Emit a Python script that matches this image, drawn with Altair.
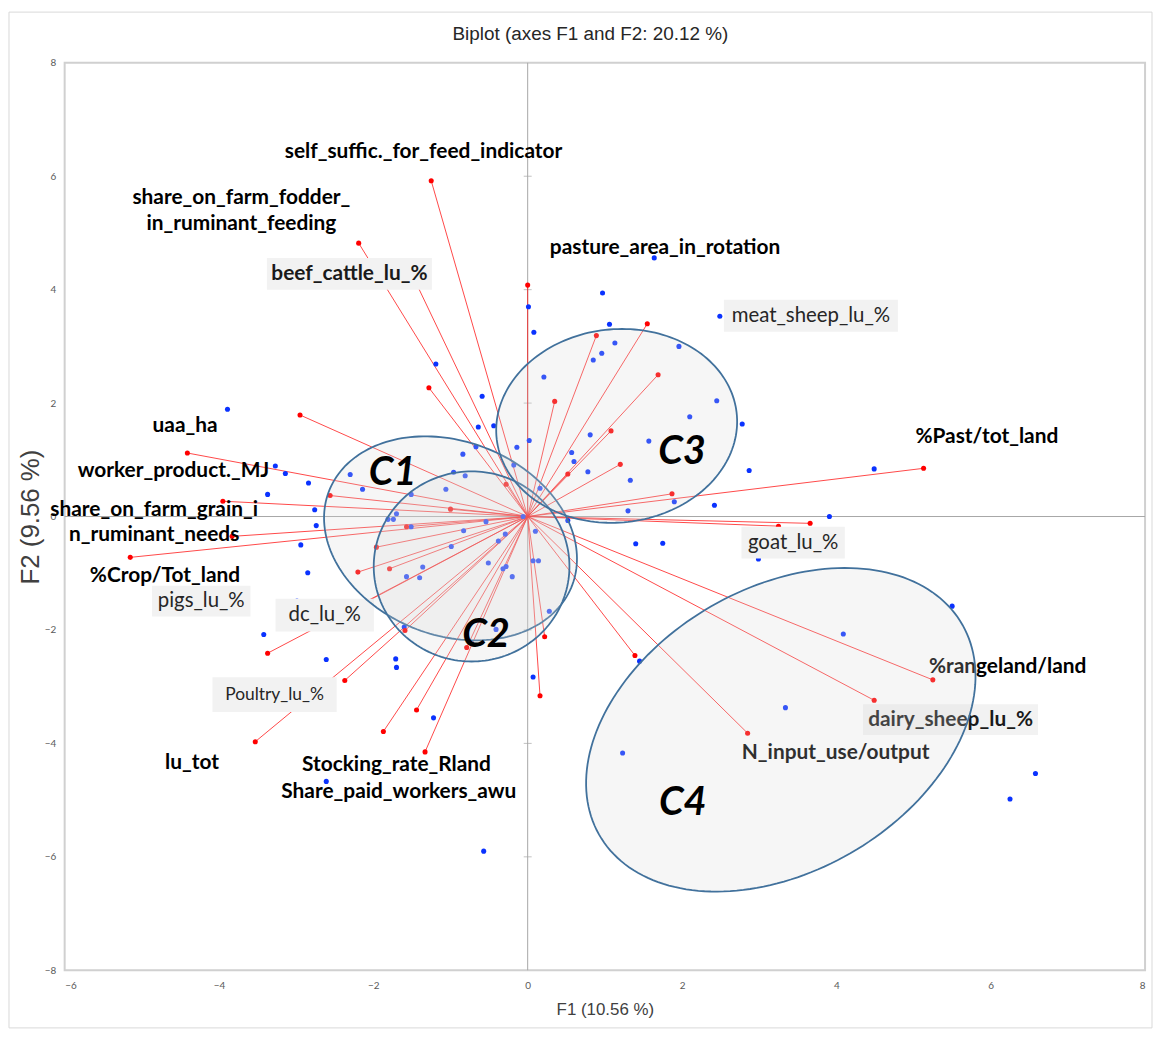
import altair as alt
import numpy as np
import pandas as pd

# ---------------- data ----------------
# observations (blue points)
obs_x = [0.01, 0.08, -1.19, 0.21, -0.59, -3.89, -0.64, -0.44, 0.02, -0.14, -0.67, -0.84, 0.57, 0.60,
         -0.18, 0.78, -3.27, -3.14, -2.84, -2.30, -2.14, -0.96, -0.81, -1.06, 0.16, -1.51, -3.37, -2.76,
         -0.06, 1.64, 0.97, 2.49, 1.06, 1.13, 0.96, 0.85, 1.96, 2.45, 2.10, 2.78, 0.81, 1.57, 1.33, 2.87,
         4.49, 1.90, 2.42, 1.30, 3.91, -1.70, -1.81, -1.74, -0.54, 0.52, -2.74, -1.51, -0.83, -0.29, 0.10,
         -0.38, -2.94, -0.99, 0.07, 0.14, -0.51, -1.36, -0.28, -0.32, -2.85, -1.57, -1.40, -0.20, -2.99,
         0.28, -2.18, -1.60, -0.41, -3.42, -2.61, -1.71, -1.70, 0.07, -1.22, -2.61, -0.57, 1.40, 1.75,
         2.99, 5.50, 4.09, 1.45, 3.34, 1.23, 6.58, 6.25]
obs_y = [3.70, 3.25, 2.69, 2.46, 2.12, 1.89, 1.58, 1.60, 1.34, 1.22, 1.23, 1.10, 1.13, 0.97,
         0.91, 0.79, 0.89, 0.76, 0.59, 0.74, 0.48, 0.78, 0.72, 0.48, 0.50, 0.39, 0.39, 0.12,
         0.00, 4.56, 3.94, 3.53, 3.39, 3.06, 2.88, 2.76, 3.00, 2.04, 1.76, 1.63, 1.44, 1.33, 0.64, 0.81,
         0.84, 0.26, 0.20, 0.10, 0.00, 0.05, -0.05, -0.05, -0.09, -0.07, -0.16, -0.18, -0.25, -0.31, -0.26,
         -0.43, -0.50, -0.53, -0.78, -0.78, -0.82, -0.89, -0.88, -0.92, -0.99, -1.06, -1.08, -1.06, -1.49,
         -1.67, -1.90, -1.95, -1.99, -2.08, -2.52, -2.51, -2.66, -2.83, -3.55, -4.67, -5.90, -0.48, -0.47,
         -0.75, -1.58, -2.07, -2.55, -3.37, -4.17, -4.53, -4.98]

# variables (red vectors)
var_x = [-1.25, -2.19, -1.51, 0.00, -1.28, -2.95, -4.41, 0.35, 1.55, 0.89, 1.69, 1.08, 1.20, 0.52,
         1.87, 5.13, -0.28, -2.56, -3.95, -1.00, -1.57, -1.96, -3.83, -5.15, -2.20, -1.79, -2.11,
         -3.37, -1.59, -0.79, -2.37, 0.22, 0.16, -1.44, -1.87, -1.33, -3.53, 1.39, 2.85, 4.49, 5.25,
         3.66, 3.25]
var_y = [5.92, 4.82, 4.30, 4.08, 2.27, 1.79, 1.12, 2.03, 3.40, 3.19, 2.50, 1.51, 0.92, 0.75,
         0.40, 0.85, 0.57, 0.37, 0.27, 0.13, -0.18, -0.54, -0.35, -0.72, -0.98, -0.92, -1.52,
         -2.41, -2.01, -2.31, -2.89, -2.12, -3.16, -3.41, -3.79, -4.15, -3.97, -2.45, -3.82, -3.24, -2.88,
         -0.12, -0.17]

# variable labels
lab_text = ["self_suffic._for_feed_indicator", "share_on_farm_fodder_", "in_ruminant_feeding",
            "beef_cattle_lu_%", "pasture_area_in_rotation", "meat_sheep_lu_%", "uaa_ha",
            "worker_product._MJ", "share_on_farm_grain_i", "n_ruminant_needs", "%Crop/Tot_land",
            "pigs_lu_%", "dc_lu_%", "Poultry_lu_%", "lu_tot", "Stocking_rate_Rland",
            "Share_paid_workers_awu", "%Past/tot_land", "goat_lu_%", "%rangeland/land",
            "dairy_sheep_lu_%", "N_input_use/output"]
lab_x = [-1.35, -3.71, -3.71, -2.31, 1.78, 3.67, -4.44, -4.59, -4.84, -4.84, -4.70, -4.23, -2.63,
         -3.28, -4.35, -1.70, -1.67, 5.95, 3.44, 6.22, 5.48, 3.99]
lab_y = [6.43, 5.61, 5.15, 4.28, 4.73, 3.54, 1.60, 0.81, 0.12, -0.33, -1.05, -1.49, -1.74, -3.14,
         -4.35, -4.38, -4.86, 1.40, -0.46, -2.65, -3.58, -4.17]
lab_kind = ["bold", "bold", "bold", "boxbold", "bold", "box", "bold", "bold", "bold", "bold", "bold",
            "box", "box", "boxsmall", "bold", "bold", "bold", "bold", "box", "bold", "boxbold", "bold"]

# clusters (ellipses)
clu_name = ["C1", "C2", "C3", "C4"]
clu_cx = [-1.00, -0.727, 1.153, 3.28]
clu_cy = [-0.385, -0.88, 1.598, -3.76]
clu_a = [1.90, 1.268, 1.717, 3.13]
clu_b = [1.52, 1.676, 1.552, 2.17]
clu_angle = [-57.5, 0.0, 76.8, 55.2]
clu_lx = [-1.75, -0.54, 2.00, 2.01]
clu_ly = [0.77, -2.09, 1.14, -5.05]

zero_ticks = [-6, -4, -2, 2, 4, 6]

TITLE = "Biplot (axes F1 and F2: 20.12 %)"

# ---------------- styles ----------------
PLOT_W, PLOT_H = 1087, 913
X_DOM, Y_DOM = [-6, 8], [-8, 8]
PX_X = PLOT_W / (X_DOM[1] - X_DOM[0])
PX_Y = PLOT_H / (Y_DOM[1] - Y_DOM[0])
BOX_PX = {"beef_cattle_lu_%": (166, 32), "meat_sheep_lu_%": (175, 32), "pigs_lu_%": (99, 31),
          "dc_lu_%": (99, 33), "Poultry_lu_%": (125, 35), "goat_lu_%": (104, 32),
          "dairy_sheep_lu_%": (176, 31)}
LABEL_FONT = "Lato"

xs = alt.Scale(domain=X_DOM, nice=False, zero=False)
ys = alt.Scale(domain=Y_DOM, nice=False, zero=False)
x_axis = alt.Axis(values=list(range(-6, 9, 2)), title="F1 (10.56 %)", grid=False, domain=False,
                  ticks=False, labelPadding=10, titlePadding=12, titleFontSize=17,
                  labelFontSize=10, labelFont=LABEL_FONT)
y_axis = alt.Axis(values=list(range(-8, 9, 2)), title="F2 (9.56 %)", grid=False, domain=False,
                  ticks=False, labelPadding=9, titlePadding=1, titleFontSize=26,
                  labelFontSize=10, labelFont=LABEL_FONT)


def X(f):
    return alt.X(f + ":Q", scale=xs, axis=x_axis)


def Y(f):
    return alt.Y(f + ":Q", scale=ys, axis=y_axis)


obs_df = pd.DataFrame({"x": obs_x, "y": obs_y})
var_df = pd.DataFrame({"x": var_x, "y": var_y})
var_df["x0"] = 0.0
var_df["y0"] = 0.0
lab_df = pd.DataFrame({"t": lab_text, "x": lab_x, "y": lab_y, "k": lab_kind})
box_df = lab_df[lab_df["t"].isin(BOX_PX.keys())].copy()
box_df["bx1"] = [x - BOX_PX[t][0] / 2 / PX_X for t, x in zip(box_df["t"], box_df["x"])]
box_df["bx2"] = [x + BOX_PX[t][0] / 2 / PX_X for t, x in zip(box_df["t"], box_df["x"])]
box_df["by1"] = [y - BOX_PX[t][1] / 2 / PX_Y for t, y in zip(box_df["t"], box_df["y"])]
box_df["by2"] = [y + BOX_PX[t][1] / 2 / PX_Y for t, y in zip(box_df["t"], box_df["y"])]

rows = []
tt = np.linspace(0, 2 * np.pi, 181)
for n, cx, cy, a, b, ang in zip(clu_name, clu_cx, clu_cy, clu_a, clu_b, clu_angle):
    th = np.deg2rad(ang)
    ex = cx + a * np.cos(tt) * np.cos(th) - b * np.sin(tt) * np.sin(th)
    ey = cy + a * np.cos(tt) * np.sin(th) + b * np.sin(tt) * np.cos(th)
    for i, (px, py) in enumerate(zip(ex, ey)):
        rows.append({"c": n, "i": i, "x": px, "y": py})
ell_df = pd.DataFrame(rows)
clu_df = pd.DataFrame({"c": clu_name, "x": clu_lx, "y": clu_ly})
tick_df = pd.DataFrame({"y": zero_ticks})
one = pd.DataFrame({"t": [TITLE]})

# ---------------- layers ----------------
frame = alt.Chart(one).mark_rect(
    filled=False, stroke="#d9d9d9", strokeWidth=1).encode(
    x=alt.value(-56), x2=alt.value(PLOT_W + 7), y=alt.value(-51), y2=alt.value(PLOT_H + 58))

title = alt.Chart(one).mark_text(font="Liberation Sans", fontSize=19, color="#262626",
                                 align="center", baseline="middle").encode(
    x=alt.value(529), y=alt.value(-29), text="t:N")

zero_v = alt.Chart(one).mark_rule(color="#a6a6a6", strokeWidth=1).encode(
    x=alt.X(datum=0, scale=xs, axis=x_axis))
zero_h = alt.Chart(one).mark_rule(color="#a6a6a6", strokeWidth=1).encode(
    y=alt.Y(datum=0, scale=ys, axis=y_axis))
ticks = alt.Chart(tick_df).mark_tick(color="#a6a6a6", orient="horizontal", size=8,
                                     thickness=1).encode(
    x=alt.X(datum=0, scale=xs, axis=x_axis), y=Y("y"))

vec = alt.Chart(var_df).mark_rule(color="#ff0000", strokeWidth=0.9, opacity=0.8).encode(
    x=X("x0"), y=Y("y0"), x2="x", y2="y")
blue = alt.Chart(obs_df).mark_circle(size=26, color="#0a32ff", opacity=1).encode(x=X("x"), y=Y("y"))
red = alt.Chart(var_df).mark_circle(size=26, color="#ff0000", opacity=1).encode(x=X("x"), y=Y("y"))

boxes = alt.Chart(box_df).mark_rect(color="#f2f2f2").encode(
    x=X("bx1"), x2="bx2", y=Y("by1"), y2="by2")


def text_layer(kind, **kw):
    return alt.Chart(lab_df).transform_filter(alt.datum.k == kind).mark_text(
        font=LABEL_FONT, align="center", baseline="middle", **kw).encode(
        x=X("x"), y=Y("y"), text="t:N")


t_bold = text_layer("bold", fontSize=21, fontWeight="bold", color="#000000")
t_boxbold = text_layer("boxbold", fontSize=21, fontWeight="bold", color="#1a1a1a")
t_box = text_layer("box", fontSize=20.5, fontWeight="normal", color="#262626")
t_small = text_layer("boxsmall", fontSize=17.5, fontWeight="normal", color="#262626")

ell = alt.Chart(ell_df).mark_line(fill="#d4d4d4", fillOpacity=0.22, stroke="#41719c",
                                  strokeWidth=1.8).encode(
    x=X("x"), y=Y("y"), detail="c:N", order="i:Q")

clu = alt.Chart(clu_df).mark_text(font=LABEL_FONT, fontSize=40, fontWeight="bold",
                                  fontStyle="italic", color="#000000", align="center",
                                  baseline="middle").encode(x=X("x"), y=Y("y"), text="c:N")

chart = alt.layer(frame, title, zero_v, zero_h, ticks, vec, blue, red, boxes, t_bold, t_boxbold,
                  t_box, t_small, ell, clu).properties(
    width=PLOT_W, height=PLOT_H,
    autosize=alt.AutoSizeParams(type="none"),
    padding={"left": 57, "top": 52, "right": 9, "bottom": 60},
).configure_view(stroke="#d0d0d0", strokeWidth=2).configure_axis(
    labelColor="#595959", titleColor="#404040", titleFont="Liberation Sans",
    titleFontWeight="normal")

chart.save("out.html", embed_options={"renderer": "svg", "actions": False})
